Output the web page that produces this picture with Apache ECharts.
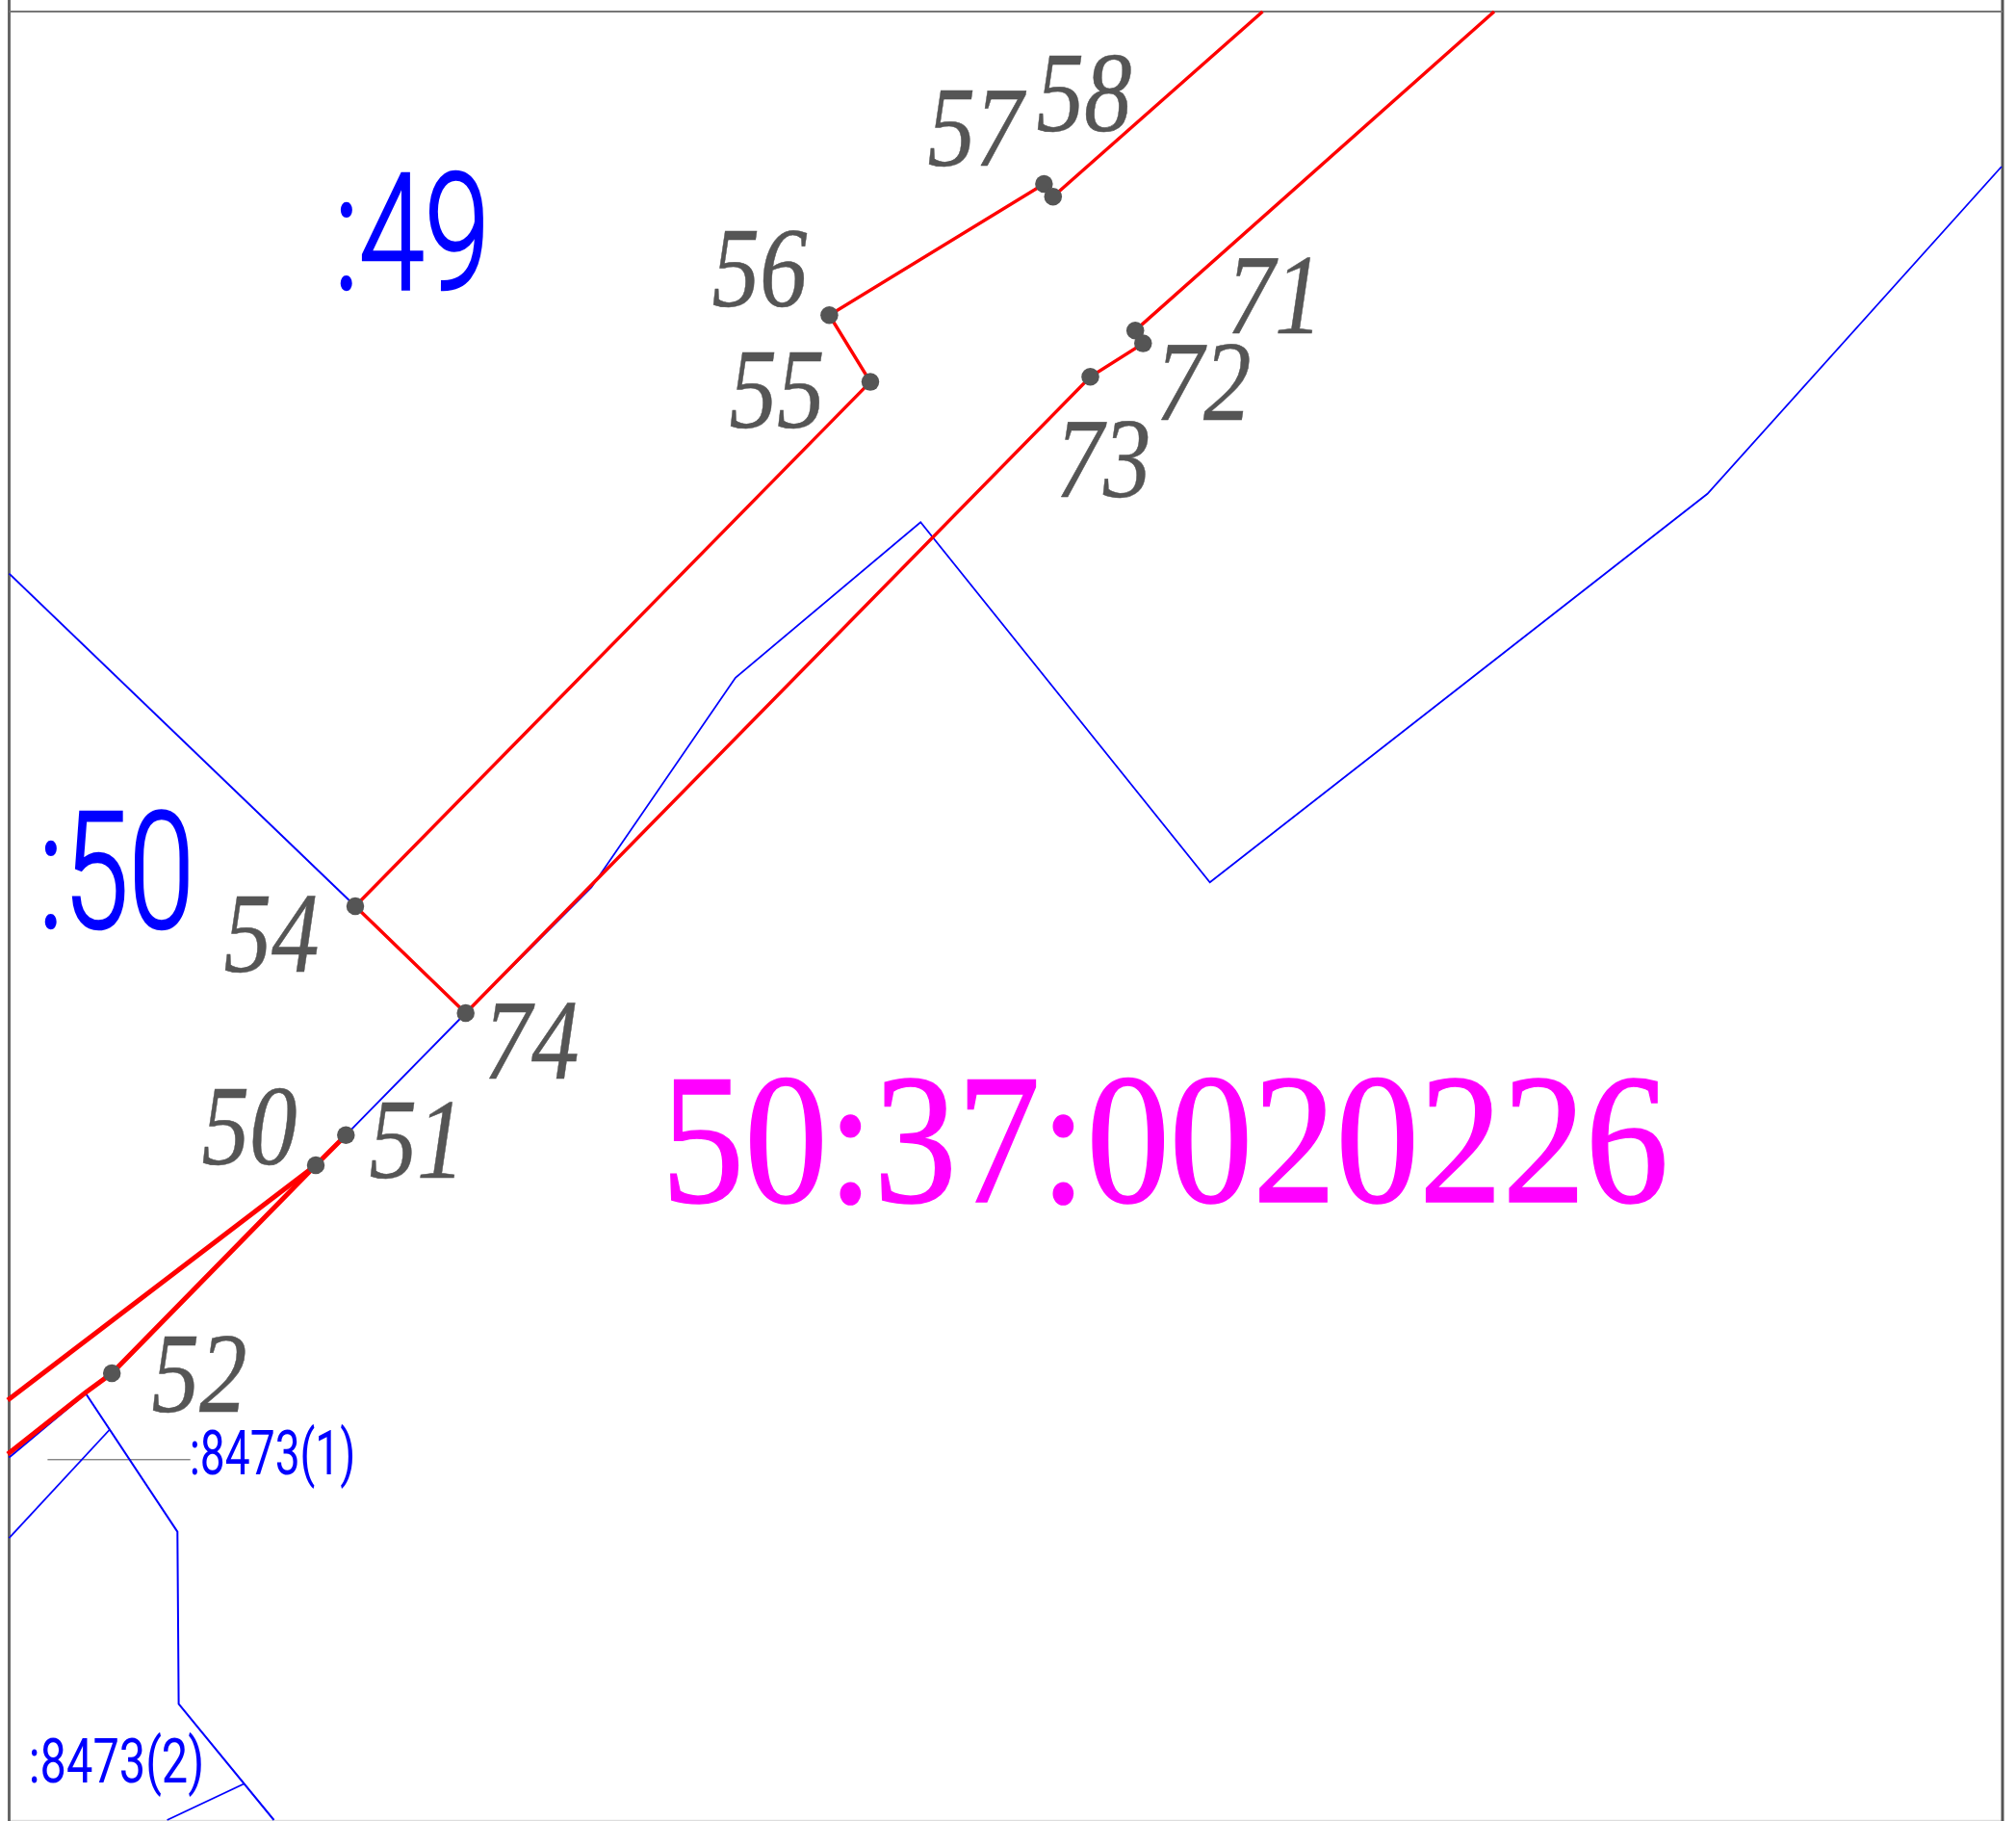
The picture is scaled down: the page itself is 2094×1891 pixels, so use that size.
<!DOCTYPE html>
<html><head><meta charset="utf-8">
<style>html,body{margin:0;padding:0;background:#fff}#c{width:2094px;height:1891px}</style>
<script src="https://cdn.jsdelivr.net/npm/echarts@6/dist/echarts.min.js"></script>
</head><body><div id="c"></div>
<script>
// Boundary node readings (map units)
const P50=[328,1210],P51=[359.3,1178.7],P52=[116.2,1426],P54=[369,941],P55=[904,396.6],P56=[861.4,327.2],
      P57=[1084.4,191],P58=[1093.8,204.3],P71=[1179.2,343.2],P72=[1187.3,356.6],P73=[1132.5,391.3],P74=[483.7,1052];
const nodeNames=['50','51','52','54','55','56','57','58','71','72','73','74'];
const nodes=[P50,P51,P52,P54,P55,P56,P57,P58,P71,P72,P73,P74];
const nodeLabelAt=[[259,1178],[433,1192],[207,1435],[282,978],[807,413],[789,287],[1013,141],[1126,105],[1324,315],[1250,405],[1146,485],[552,1089]];

// Red boundary parts
const redUpper=[P54,P55,P56,P57,P58,[1311.5,12]];
const redLower=[P54,P74,P73,P72,P71,[1552,12]];
const redThickA=[[8,1454],P50];
const redThickB=[[8,1510],[89,1446],P52,P50,P51];

// Blue neighbouring parcels
const blueA=[[9.5,595.6],P54];
const blueB=[P51,P74,[614.3,921.5],[763.9,703.8],[956.2,542.2],[1256.7,916.2],[1773.5,512.8],[2079,173]];
const blueC=[[9.5,1513.5],[89,1447],[184.3,1590.6],[185.6,1769.5],[284.5,1890]];
const blueD=[[9.5,1597.2],[113.5,1485]];
const blueE=[[253.7,1852.3],[173.6,1890]];
const leader=[[49.4,1515.8],[197.7,1515.8]];
const frameLeft=[[9.5,0],[9.5,1891]];
const frameRight=[[2080,0],[2080,1891]];
const frameTop=[[9.5,12],[2080,12]];
const frameBottom=[[9.5,1890.5],[2080,1890.5]];

const bigParcelLabels=[':49',':50'];
const bigParcelLabelAt=[[428,258],[121,921]];
const partLabelOne=[':8473(1)'];
const partLabelOneAt=[[283,1515]];
const partLabelTwo=[':8473(2)'];
const partLabelTwoAt=[[121,1835]];
const blockLabel=['50:37:0020226'];
const blockLabelAt=[[1210,1198]];

const chart=echarts.init(document.getElementById('c'),null,{renderer:'canvas'});
const line=(data,color,width)=>({type:'line',data,showSymbol:false,symbol:'none',animation:false,silent:true,clip:false,
  lineStyle:{color,width,join:'miter'},z:2});
const textSeries=(names,at,fontFamily,fontStyle,fontSize,fill,scaleX,z,strokeW)=>({
  type:'custom',coordinateSystem:'cartesian2d',animation:false,silent:true,z,
  data:at.map((p,i)=>[p[0],p[1],names[i]]),
  encode:{x:0,y:1},
  renderItem:(params,api)=>{
    const c=api.coord([api.value(0),api.value(1)]);
    return {type:'text',x:c[0],y:c[1],scaleX:scaleX,style:{text:names[params.dataIndex],x:0,y:0,fill,
      stroke:strokeW?fill:undefined,lineWidth:strokeW||0,
      font:`${fontStyle} ${fontSize}px ${fontFamily}`,textAlign:'center',textVerticalAlign:'middle'}};
  }
});
chart.setOption({
  backgroundColor:'#fff',animation:false,
  grid:{left:0,right:0,top:0,bottom:0},
  xAxis:{type:'value',min:0,max:2094,show:false},
  yAxis:{type:'value',min:0,max:1891,inverse:true,show:false},
  series:[
    line(frameBottom,'#ddd',1.5),
    line(frameLeft,'#666',3),line(frameRight,'#555',3),line(frameTop,'#777',2),
    line(leader,'#555',1),
    line(blueA,'#0000ff',2),line(blueB,'#0000ff',1.8),line(blueC,'#0000ff',2),line(blueD,'#0000ff',1.8),line(blueE,'#0000ff',1.8),
    line(redUpper,'#ff0000',3.4),line(redLower,'#ff0000',3.4),line(redThickA,'#ff0000',5),line(redThickB,'#ff0000',5),
    {type:'scatter',data:nodes,symbol:'circle',symbolSize:18.5,itemStyle:{color:'#555',opacity:1},animation:false,silent:true,z:5},
    textSeries(nodeNames,nodeLabelAt,'"Liberation Serif"','italic',118,'#555',0.84,6,0.5),
    textSeries(bigParcelLabels,bigParcelLabelAt,'Roboto','normal 300',168,'#0000ff',0.73,6,2.5),
    textSeries(partLabelOne,partLabelOneAt,'Roboto','normal',65,'#0000ff',0.71,6,0),
    textSeries(partLabelTwo,partLabelTwoAt,'Roboto','normal',65,'#0000ff',0.75,6,0),
    textSeries(blockLabel,blockLabelAt,'"Liberation Serif"','normal',192,'#ff00ff',0.9,6,1.5)
  ]
});
</script></body></html>
